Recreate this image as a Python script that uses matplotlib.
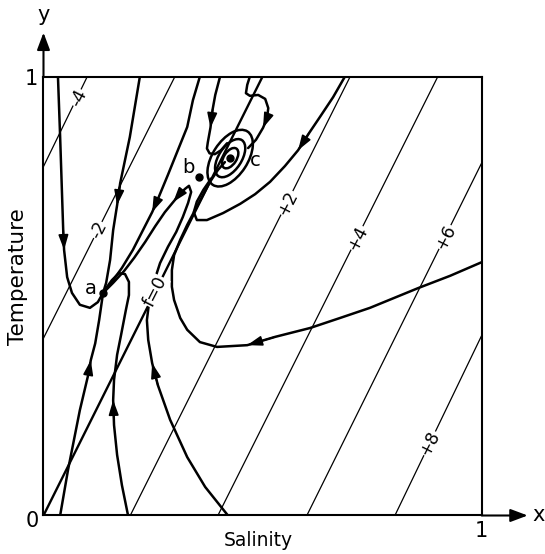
import matplotlib.pyplot as plt
from matplotlib.patches import Ellipse

# lines of constant density f, end points and label positions (x = salinity, y = temperature)
f_labels = ['-4', '-2', 'f=0', '+2', '+4', '+6', '+8']
f_start = [(0.0, 0.795), (0.0, 0.404), (0.0, 0.0), (0.198, 0.0), (0.398, 0.0), (0.601, 0.0), (0.802, 0.0)]
f_end = [(0.1, 1.0), (0.3, 1.0), (0.5, 1.0), (0.7, 1.0), (0.9, 1.0), (1.0, 0.803), (1.0, 0.41)]
f_label_pos = [(0.079, 0.951), (0.125, 0.65), (0.255, 0.51), (0.556, 0.712),
               (0.716, 0.632), (0.917, 0.634), (0.882, 0.164)]

# equilibrium points
eq_names = ['a', 'b', 'c']
eq_pts = [(0.136, 0.507), (0.355, 0.771), (0.426, 0.814)]

# trajectories, with the index where an arrow head sits
traj_A = [(0.033, 1.0), (0.038, 0.862), (0.045, 0.650), (0.047, 0.605), (0.054, 0.543), (0.065, 0.507),
          (0.083, 0.480), (0.106, 0.473), (0.124, 0.486), (0.136, 0.507)]
traj_B = [(0.220, 1.0), (0.197, 0.862), (0.175, 0.757), (0.168, 0.707), (0.159, 0.650), (0.152, 0.582),
          (0.143, 0.530), (0.136, 0.507)]
traj_C = [(0.038, 0.0), (0.056, 0.104), (0.083, 0.240), (0.102, 0.320), (0.108, 0.354), (0.118, 0.392),
          (0.127, 0.445), (0.136, 0.507)]
traj_D = [(0.193, 0.0), (0.179, 0.069), (0.168, 0.138), (0.161, 0.206), (0.159, 0.263), (0.161, 0.309),
          (0.168, 0.366), (0.177, 0.411), (0.188, 0.468), (0.195, 0.502), (0.195, 0.532), (0.186, 0.550),
          (0.172, 0.552), (0.156, 0.536), (0.143, 0.518), (0.136, 0.507)]
traj_E = [(0.421, 0.0), (0.369, 0.065), (0.328, 0.133), (0.289, 0.218), (0.261, 0.297), (0.248, 0.347),
          (0.239, 0.400), (0.236, 0.445), (0.243, 0.502), (0.255, 0.541), (0.266, 0.575), (0.284, 0.612),
          (0.303, 0.646), (0.318, 0.680), (0.330, 0.712), (0.337, 0.737), (0.332, 0.751), (0.323, 0.744),
          (0.309, 0.730), (0.296, 0.714), (0.277, 0.691), (0.255, 0.659), (0.232, 0.623), (0.207, 0.587),
          (0.184, 0.557), (0.159, 0.530), (0.143, 0.514), (0.136, 0.507)]
traj_G = [(0.357, 1.0), (0.341, 0.946), (0.328, 0.885), (0.307, 0.833), (0.284, 0.776), (0.262, 0.723),
          (0.248, 0.691), (0.227, 0.650), (0.204, 0.605), (0.179, 0.564), (0.156, 0.532), (0.136, 0.507)]
traj_F = [(1.0, 0.577), (0.928, 0.546), (0.855, 0.518), (0.745, 0.473), (0.677, 0.450), (0.608, 0.427),
          (0.529, 0.407), (0.465, 0.388), (0.396, 0.384), (0.357, 0.395), (0.328, 0.423), (0.312, 0.450),
          (0.298, 0.491), (0.293, 0.521), (0.293, 0.559), (0.298, 0.593), (0.312, 0.628), (0.328, 0.662),
          (0.346, 0.696), (0.364, 0.730), (0.380, 0.760), (0.398, 0.787), (0.414, 0.805)]
traj_J = [(0.688, 1.0), (0.661, 0.953), (0.631, 0.908), (0.606, 0.871), (0.581, 0.832), (0.551, 0.796),
          (0.517, 0.760), (0.483, 0.732), (0.449, 0.710), (0.410, 0.689), (0.373, 0.673), (0.350, 0.673),
          (0.343, 0.691), (0.350, 0.715), (0.365, 0.742), (0.383, 0.768)]
traj_H = [(0.403, 1.0), (0.392, 0.958), (0.386, 0.925), (0.381, 0.883), (0.375, 0.850), (0.373, 0.836),
          (0.379, 0.825), (0.391, 0.823), (0.405, 0.832), (0.419, 0.848)]
traj_I = [(0.471, 1.0), (0.465, 0.981), (0.462, 0.962), (0.471, 0.956), (0.490, 0.958), (0.506, 0.949),
          (0.513, 0.928), (0.510, 0.905), (0.501, 0.883), (0.485, 0.856), (0.467, 0.837)]

trajectories = [traj_A, traj_B, traj_C, traj_D, traj_E, traj_G, traj_F, traj_J, traj_H, traj_I]
arrow_at = [[3], [3], [4], [4], [5, 19], [6], [7], [4], [3], [8]]

# loops of the spiral around c: width, height, angle
spiral_w = [0.145, 0.098, 0.052]
spiral_h = [0.080, 0.052, 0.029]
spiral_angle = 57

fig = plt.figure(figsize=(5.45, 5.54), dpi=100)
ax = fig.add_axes([0.0798, 0.0695, 0.804, 0.7924])
ax.set_xlim(0, 1)
ax.set_ylim(0, 1)
ax.set_xticks([])
ax.set_yticks([])
for s in ax.spines.values():
    s.set_linewidth(1.5)

# density lines
for lab, p0, p1, pos in zip(f_labels, f_start, f_end, f_label_pos):
    lw = 1.7 if lab == 'f=0' else 0.9
    ax.plot([p0[0], p1[0]], [p0[1], p1[1]], color='k', lw=lw, zorder=1)
    ax.text(pos[0], pos[1], lab, rotation=63, ha='center', va='center', fontsize=12.5,
            bbox=dict(facecolor='white', edgecolor='none', pad=0.3), zorder=3)

# trajectories
for tr, arrows in zip(trajectories, arrow_at):
    xs = [p[0] for p in tr]
    ys = [p[1] for p in tr]
    ax.plot(xs, ys, color='k', lw=1.8, solid_capstyle='round', zorder=2)
    for i in arrows:
        ax.annotate('', xy=tr[i], xytext=tr[i - 1],
                    arrowprops=dict(arrowstyle='-|>,head_length=0.75,head_width=0.25',
                                    color='k', lw=1.2, shrinkA=0, shrinkB=0,
                                    mutation_scale=12), zorder=4)

for w, h in zip(spiral_w, spiral_h):
    ax.add_patch(Ellipse(eq_pts[2], w, h, angle=spiral_angle, fill=False, lw=1.8, color='k', zorder=2))

# equilibrium points
for name, p in zip(eq_names, eq_pts):
    ax.plot(p[0], p[1], 'o', color='k', ms=5, zorder=5)
offsets = {'a': (-0.028, 0.01), 'b': (-0.025, 0.022), 'c': (0.058, -0.005)}
for name, p in zip(eq_names, eq_pts):
    dx, dy = offsets[name]
    ax.text(p[0] + dx, p[1] + dy, name, ha='center', va='center', fontsize=14, zorder=5)

# axis arrows and labels
ax.annotate('', xy=(0, 1.1), xytext=(0, 1.0), xycoords='data',
            arrowprops=dict(arrowstyle='-|>,head_length=0.8,head_width=0.3', color='k', lw=1.5,
                            shrinkA=0, shrinkB=0, mutation_scale=13), annotation_clip=False)
ax.annotate('', xy=(1.105, 0), xytext=(1.0, 0), xycoords='data',
            arrowprops=dict(arrowstyle='-|>,head_length=0.8,head_width=0.3', color='k', lw=1.5,
                            shrinkA=0, shrinkB=0, mutation_scale=13), annotation_clip=False)
ax.text(0, 1.14, 'y', ha='center', va='center', fontsize=15)
ax.text(1.13, 0, 'x', ha='center', va='center', fontsize=15)
ax.text(-0.025, -0.012, '0', ha='center', va='center', fontsize=15)
ax.text(-0.028, 0.995, '1', ha='center', va='center', fontsize=15)
ax.text(1.0, -0.035, '1', ha='center', va='center', fontsize=15)
ax.text(0.49, -0.058, 'Salinity', transform=ax.transAxes, ha='center', va='center', fontsize=13.5)
ax.text(-0.058, 0.545, 'Temperature', transform=ax.transAxes, rotation=90,
        ha='center', va='center', fontsize=15.5)

fig.savefig('out.png', dpi=100)
